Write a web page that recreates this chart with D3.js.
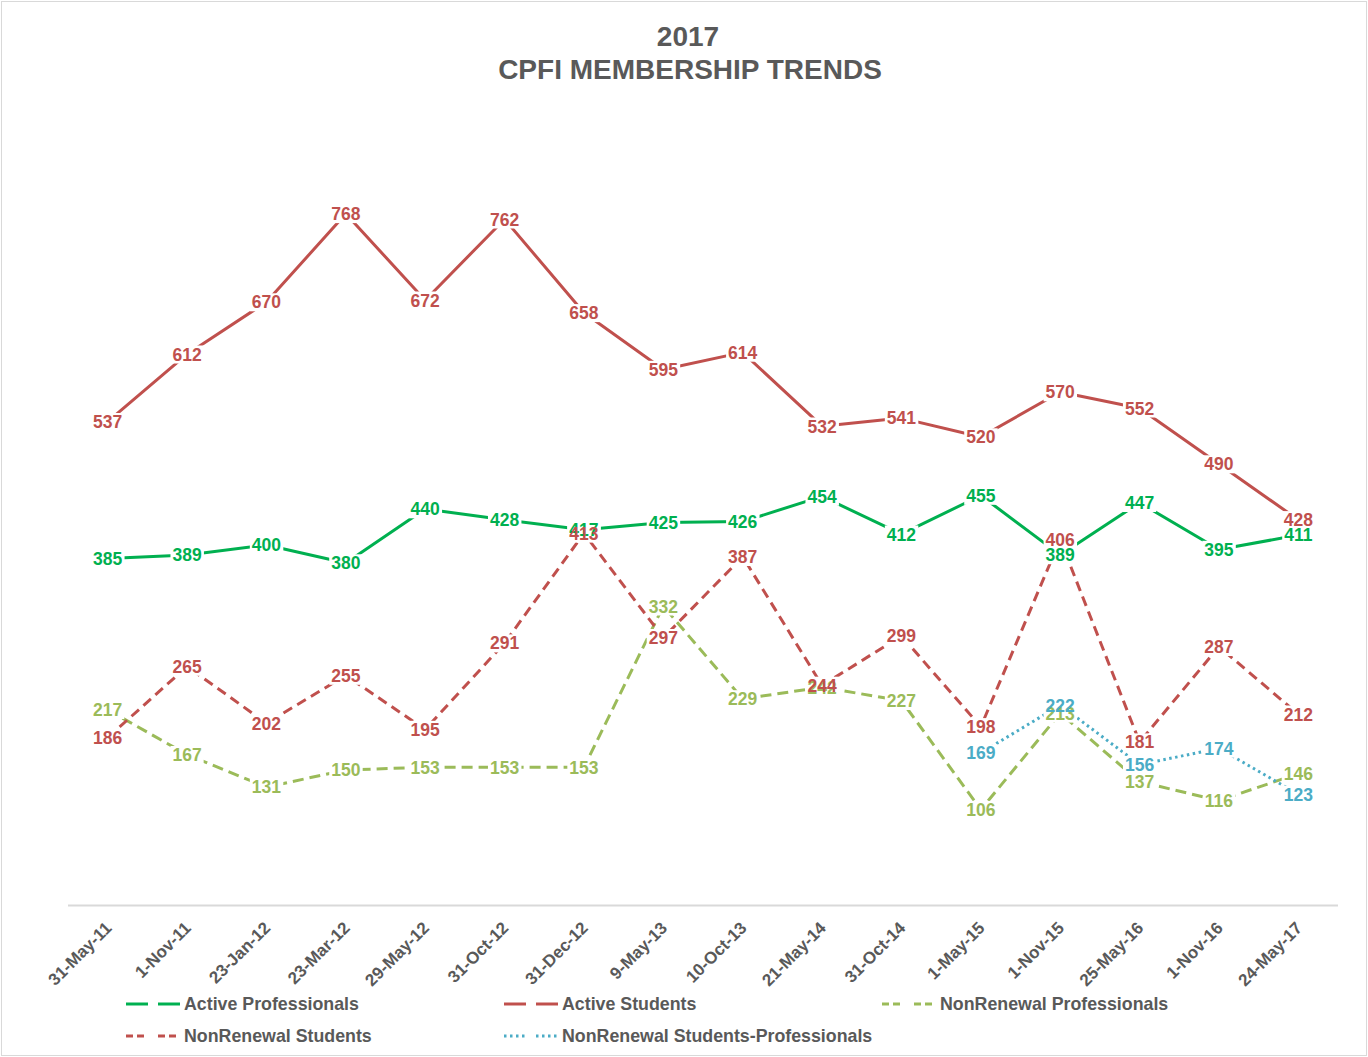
<!DOCTYPE html>
<html>
<head>
<meta charset="utf-8">
<script src="https://cdn.jsdelivr.net/npm/d3@7"></script>
<style>
  body { margin: 0; background: #fff; }
  svg { display: block; font-family: "Liberation Sans", Arial, sans-serif; }
</style>
</head>
<body>
<svg id="chart" width="1368" height="1057"></svg>
<script>
const categories = ['31-May-11', '1-Nov-11', '23-Jan-12', '23-Mar-12', '29-May-12', '31-Oct-12', '31-Dec-12', '9-May-13',
  '10-Oct-13', '21-May-14', '31-Oct-14', '1-May-15', '1-Nov-15', '25-May-16', '1-Nov-16', '24-May-17'];
const activeProfessionals = [385, 389, 400, 380, 440, 428, 417, 425, 426, 454, 412, 455, 389, 447, 395, 411];
const activeStudents = [537, 612, 670, 768, 672, 762, 658, 595, 614, 532, 541, 520, 570, 552, 490, 428];
const nonRenewalProfessionals = [217, 167, 131, 150, 153, 153, 153, 332, 229, 242, 227, 106, 213, 137, 116, 146];
const nonRenewalStudents = [186, 265, 202, 255, 195, 291, 413, 297, 387, 244, 299, 198, 406, 181, 287, 212];
const nonRenewalStudentsProfessionals = [null, null, null, null, null, null, null, null, null, null, null, 169, 222, 156, 174, 123];

const series = [
  { name: 'Active Professionals', values: activeProfessionals, color: '#00B050', dash: null, legendDash: null },
  { name: 'Active Students', values: activeStudents, color: '#C0504D', dash: null, legendDash: null },
  { name: 'NonRenewal Professionals', values: nonRenewalProfessionals, color: '#9BBB59', dash: '11,6', legendDash: '7,4' },
  { name: 'NonRenewal Students', values: nonRenewalStudents, color: '#C0504D', dash: '10,6', legendDash: '7,4' },
  { name: 'NonRenewal Students-Professionals', values: nonRenewalStudentsProfessionals, color: '#4BACC6', dash: '2.5,3.5', legendDash: '2.5,3.5' }
];

const svg = d3.select('#chart');
const textColor = '#595959';

// chart border
svg.append('rect')
  .attr('x', 1.5).attr('y', 1.5)
  .attr('width', 1365).attr('height', 1054)
  .attr('fill', 'none')
  .attr('stroke', '#d9d9d9');

// title
const title = svg.append('text')
  .attr('text-anchor', 'middle')
  .attr('fill', textColor)
  .attr('font-weight', 'bold')
  .attr('font-size', 28);
title.append('tspan').attr('x', 688).attr('y', 46).text('2017');
title.append('tspan').attr('x', 690).attr('y', 79).text('CPFI MEMBERSHIP TRENDS');

const x = d3.scalePoint().domain(categories).range([68, 1338]).padding(0.5);
const y = d3.scaleLinear().domain([0, 900]).range([905, 95]);

// axis
svg.append('line')
  .attr('x1', 68).attr('x2', 1338)
  .attr('y1', 905.5).attr('y2', 905.5)
  .attr('stroke', '#d9d9d9')
  .attr('stroke-width', 2);

svg.append('g')
  .selectAll('text')
  .data(categories)
  .join('text')
  .attr('transform', d => `translate(${x(d) + 5}, 929) rotate(-45)`)
  .attr('text-anchor', 'end')
  .attr('fill', textColor)
  .attr('font-weight', 'bold')
  .attr('font-size', 17)
  .text(d => d);

// lines
const line = d3.line()
  .defined(d => d.v != null)
  .x(d => x(d.c))
  .y(d => y(d.v));

const lines = svg.append('g');
series.forEach(s => {
  const pts = categories.map((c, i) => ({ c, v: s.values[i] }));
  lines.append('path')
    .datum(pts)
    .attr('d', line)
    .attr('fill', 'none')
    .attr('stroke', s.color)
    .attr('stroke-width', 3)
    .attr('stroke-dasharray', s.dash)
    .attr('stroke-linejoin', 'round');
});

// data labels: white boxes first, then all text
const bgLayer = svg.append('g');
const labelLayer = svg.append('g');
series.forEach(s => {
  categories.forEach((c, i) => {
    const v = s.values[i];
    if (v == null) return;
    const t = labelLayer.append('text')
      .attr('x', x(c))
      .attr('y', y(v))
      .attr('dy', '0.36em')
      .attr('text-anchor', 'middle')
      .attr('fill', s.color)
      .attr('font-weight', 'bold')
      .attr('font-size', 17.5)
      .text(v);
    const b = t.node().getBBox();
    bgLayer.append('rect')
      .attr('x', b.x - 2).attr('y', b.y + 1)
      .attr('width', b.width + 4).attr('height', b.height - 2)
      .attr('fill', '#fff');
  });
});

// legend
const legendPos = [
  [126, 1004], [504, 1004], [882, 1004],
  [126, 1036], [504, 1036]
];
series.forEach((s, i) => {
  const [lx, ly] = legendPos[i];
  const g = svg.append('g').attr('transform', `translate(${lx}, ${ly})`);
  [[0, 22], [32, 54]].forEach(([a, b]) => {
    g.append('line')
      .attr('x1', a).attr('x2', b)
      .attr('y1', 0).attr('y2', 0)
      .attr('stroke', s.color)
      .attr('stroke-width', 3)
      .attr('stroke-dasharray', s.legendDash);
  });
  g.append('text')
    .attr('x', 58)
    .attr('y', 0)
    .attr('dy', '0.36em')
    .attr('fill', textColor)
    .attr('font-weight', 'bold')
    .attr('font-size', 17.8)
    .text(s.name);
});
</script>
</body>
</html>
